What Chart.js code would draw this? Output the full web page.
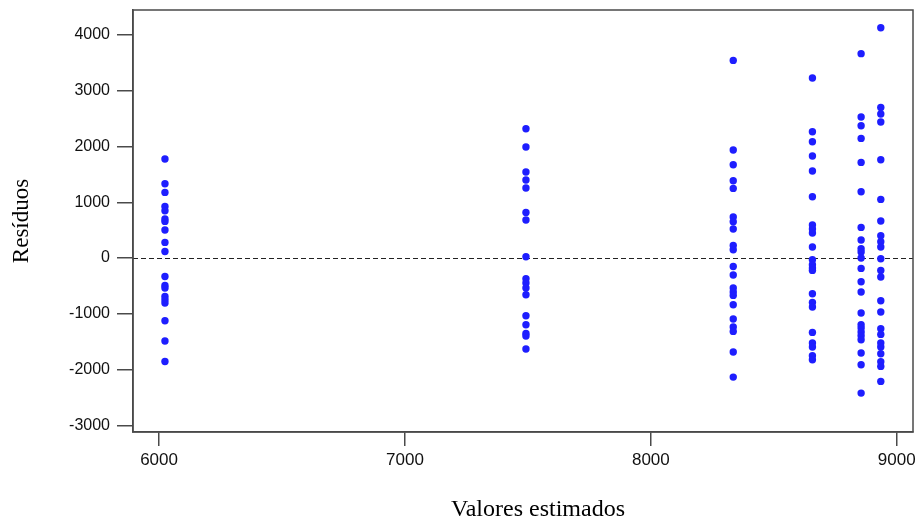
<!DOCTYPE html>
<html>
<head>
<meta charset="utf-8">
<script src="https://cdn.jsdelivr.net/npm/chart.js@4.4.1/dist/chart.umd.min.js"></script>
<style>
  html, body { margin: 0; padding: 0; background: #fff; }
  #wrap { width: 920px; height: 521px; }
</style>
</head>
<body>
<div id="wrap"><canvas id="residChart"></canvas></div>
<script>
// fitted value of each group (x) and the residuals seen at it (y)
const fittedValues = [6024, 7492, 8335, 8657, 8855, 8935];

const residuals6024 = [1776, 1333, 1177, 926, 848, 700, 657, 502, 280, 118,
  -330, -491, -538, -689, -748, -807, -1125, -1489, -1855];
const residuals7492 = [2319, 1991, 1543, 1399, 1256, 818, 682, 23,
  -371, -449, -538, -658, -1035, -1196, -1352, -1399, -1632];
const residuals8335 = [3544, 1937, 1674, 1387, 1249, 735, 651, 520, 226, 149,
  -151, -305, -538, -610, -670, -838, -1094, -1238, -1316, -1686, -2135];
const residuals8657 = [3229, 2265, 2086, 1830, 1561, 1100, 592, 520, 448, 197,
  -30, -120, -179, -222, -640, -796, -879, -1334, -1525, -1596, -1752, -1824];
const residuals8855 = [3665, 2529, 2373, 2145, 1715, 1189, 549, 323, 167, 108, 0,
  -186, -425, -610, -987, -1196, -1256, -1327, -1394, -1466, -1704, -1914, -2422];
const residuals8935 = [4131, 2701, 2583, 2439, 1763, 1051, 664, 400, 292, 197,
  -12, -222, -341, -766, -969, -1268, -1370, -1525, -1596, -1716, -1860, -1944, -2213];

const residualGroups = [residuals6024, residuals7492, residuals8335,
  residuals8657, residuals8855, residuals8935];

const xTicks = [6000, 7000, 8000, 9000];
const yTicks = [-3000, -2000, -1000, 0, 1000, 2000, 3000, 4000];

const xTitle = 'Valores estimados';
const yTitle = 'Resíduos';

const points = [];
fittedValues.forEach((fx, i) => {
  residualGroups[i].forEach(r => points.push({ x: fx, y: r }));
});

const axisColor = '#4a4a4a';

// frame around the plot area, dashed zero line, x title
const framePlugin = {
  id: 'frame',
  beforeDatasetsDraw(chart) {
    const { ctx, chartArea, scales } = chart;
    const y0 = scales.y.getPixelForValue(0);
    ctx.save();
    ctx.strokeStyle = '#222';
    ctx.lineWidth = 1;
    ctx.setLineDash([5, 3]);
    ctx.beginPath();
    ctx.moveTo(chartArea.left, Math.round(y0) + 0.5);
    ctx.lineTo(chartArea.right, Math.round(y0) + 0.5);
    ctx.stroke();
    ctx.restore();
  },
  afterDraw(chart) {
    const { ctx, chartArea } = chart;
    ctx.save();
    ctx.strokeStyle = axisColor;
    ctx.lineWidth = 1.5;
    ctx.strokeRect(chartArea.left, chartArea.top, chartArea.right - chartArea.left, chartArea.bottom - chartArea.top);
    ctx.fillStyle = '#000';
    ctx.font = '24px "Liberation Serif", "Times New Roman", serif';
    ctx.textAlign = 'center';
    ctx.textBaseline = 'alphabetic';
    ctx.fillText(xTitle, (chartArea.left + chartArea.right) / 2 + 15, 516);
    ctx.restore();
  }
};

const plainNumber = v => String(v);

const ctx = document.getElementById('residChart').getContext('2d');
new Chart(ctx, {
  type: 'scatter',
  data: {
    datasets: [{
      label: 'Resíduos',
      data: points,
      backgroundColor: '#1e1eff',
      borderColor: '#1e1eff',
      borderWidth: 0,
      pointRadius: 3.7,
      pointHoverRadius: 3.7,
    }],
  },
  options: {
    responsive: true,
    maintainAspectRatio: false,
    animation: false,
    layout: { padding: { top: 10, right: 7, left: 0, bottom: 0 } },
    plugins: {
      legend: { display: false },
      tooltip: { enabled: false },
    },
    scales: {
      x: {
        type: 'linear',
        min: 5894,
        max: 9066,
        afterBuildTicks: scale => { scale.ticks = xTicks.map(v => ({ value: v })); },
        afterFit: scale => { scale.height = 89; },
        border: { display: true, color: axisColor, width: 1.5 },
        grid: { drawOnChartArea: false, drawTicks: true, tickLength: 14, color: axisColor, lineWidth: 1.5 },
        ticks: {
          color: '#111',
          padding: 4,
          maxRotation: 0,
          callback: plainNumber,
          font: { family: '"Liberation Sans", Arial, sans-serif', size: 17 },
        },
      },
      y: {
        type: 'linear',
        min: -3120,
        max: 4448,
        afterBuildTicks: scale => { scale.ticks = yTicks.map(v => ({ value: v })); },
        afterFit: scale => {
          scale.width = 133;
          scale.paddingTop = 0;
          scale.paddingBottom = 0;
        },
        border: { display: true, color: axisColor, width: 1.5 },
        grid: { drawOnChartArea: false, drawTicks: true, tickLength: 16, color: axisColor, lineWidth: 1.5 },
        ticks: {
          color: '#111',
          padding: 7,
          callback: plainNumber,
          font: { family: '"Liberation Sans", Arial, sans-serif', size: 16 },
        },
        title: {
          display: true,
          text: yTitle,
          color: '#000',
          padding: { top: 10, bottom: 0 },
          font: { family: '"Liberation Serif", "Times New Roman", serif', size: 23, lineHeight: 1 },
        },
      },
    },
  },
  plugins: [framePlugin],
});
</script>
</body>
</html>
